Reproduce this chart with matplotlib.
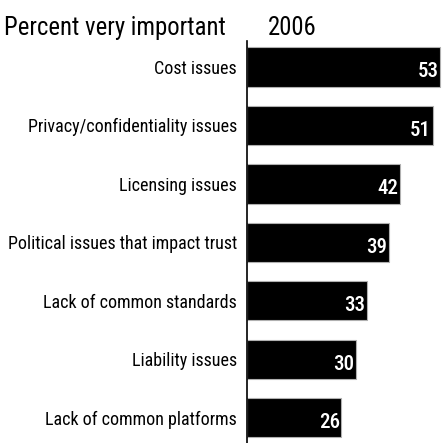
import matplotlib
matplotlib.use("Agg")
import matplotlib.pyplot as plt

categories = [
    "Cost issues",
    "Privacy/confidentiality issues",
    "Licensing issues",
    "Political issues that impact trust",
    "Lack of common standards",
    "Liability issues",
    "Lack of common platforms",
]
values = [53, 51, 42, 39, 33, 30, 26]
header_left = "Percent very important"
header_right = "2006"

FONT = ["Roboto Condensed", "DejaVu Sans"]

W, H = 442, 443
fig = plt.figure(figsize=(W / 100, H / 100), dpi=100)
ax = fig.add_axes([246.5 / W, 0, (W - 246.5) / W, (443 - 41) / H])

n = len(categories)
pos = list(range(n))
ax.barh(pos, values, height=0.67, color="black", edgecolor="#b0b0b0", linewidth=0.8)
ax.set_ylim(n - 1 + 0.43, -0.445)
ax.set_xlim(0, 53.6)

for p, v, c in zip(pos, values, categories):
    ax.text(v - 0.4, p + 0.08, str(v), color="white", fontsize=15, fontweight="medium",
            ha="right", va="center", family=FONT)
    ax.text(-2.6, p + 0.03, c, ha="right", va="center", fontsize=13, family=FONT)

for s in ["top", "right", "bottom"]:
    ax.spines[s].set_visible(False)
ax.spines["left"].set_linewidth(1.2)
ax.set_xticks([])
ax.set_yticks([])

fig.text(4 / W, 1 - 35 / H, header_left, fontsize=17.8, family=FONT, va="baseline", ha="left")
fig.text(268 / W, 1 - 35 / H, header_right, fontsize=17.8, family=FONT, va="baseline", ha="left")

fig.savefig("out.png", dpi=100)
